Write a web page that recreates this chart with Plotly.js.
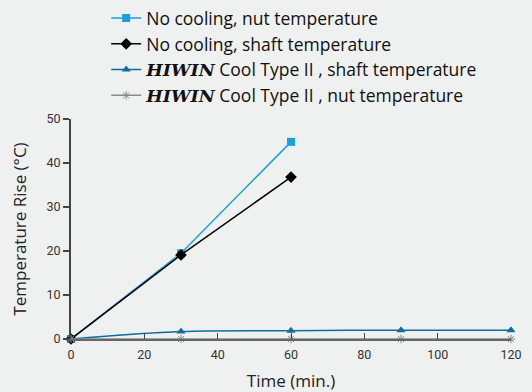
<!DOCTYPE html>
<html><head><meta charset="utf-8">
<script src="https://cdn.plot.ly/plotly-3.0.1.min.js"></script>
<style>html,body{margin:0;padding:0;background:#eff0f0;}#c{width:532px;height:392px;}</style>
</head><body><div id="c"></div>
<script>
const timeNoCool = [0, 30, 60];
const nutNoCool = [0, 19.5, 44.8];
const shaftNoCool = [0, 19.1, 36.8];
const timeCool = [0, 30, 60, 90, 120];
const shaftCool = [0, 1.7, 1.9, 2.0, 2.0];
const nutCool = [0, 0, 0, 0, 0];
const xTicks = [0, 20, 40, 60, 80, 100, 120];
const yTicks = [0, 10, 20, 30, 40, 50];

const hiwin = '<span style="font-family:\'DejaVu Serif\';font-weight:bold;font-style:italic;">HIWIN</span>';
const traces = [
  {x: timeNoCool, y: nutNoCool, name: 'No cooling, nut temperature', mode: 'lines+markers',
   line: {color: '#1a9fe0', width: 1.5}, marker: {symbol: 'square', size: 8, color: '#1a9fe0'}},
  {x: timeNoCool, y: shaftNoCool, name: 'No cooling, shaft temperature', mode: 'lines+markers',
   line: {color: '#000000', width: 1.5}, marker: {symbol: 'diamond', size: 9, color: '#000000'}},
  {x: timeCool, y: shaftCool, name: hiwin + ' Cool Type II , shaft temperature', mode: 'lines+markers',
   line: {color: '#0f6e9e', width: 1.5, shape: 'spline'}, marker: {symbol: 'triangle-up', size: 8, color: '#0f6e9e'}},
  {x: timeCool, y: nutCool, name: hiwin + ' Cool Type II , nut temperature', mode: 'lines+markers',
   line: {color: '#8a8a8a', width: 1.5}, marker: {symbol: 'asterisk-open', size: 7, color: '#8a8a8a', line: {color: '#8a8a8a', width: 1}}}
];
traces.forEach(t => t.cliponaxis = false);

const layout = {
  width: 532, height: 392,
  paper_bgcolor: '#eff0f0', plot_bgcolor: '#eff0f0',
  font: {family: '"Open Sans", sans-serif', color: '#222'},
  margin: {l: 71, r: 21, t: 119, b: 53, autoexpand: false},
  showlegend: true,
  legend: {x: 0.08, y: 1.54, xanchor: 'left', yanchor: 'top',
    bgcolor: 'rgba(0,0,0,0)', font: {size: 17.5, color: '#111'}, tracegroupgap: 0, itemwidth: 30},
  xaxis: {range: [0, 120], tickvals: xTicks, ticks: 'inside', ticklen: 6, tickwidth: 1, tickcolor: '#444',
    showgrid: false, zeroline: false, showline: true, linecolor: '#666', linewidth: 2,
    ticklabelstandoff: 3,
    tickfont: {family: 'Roboto, sans-serif', size: 12.5, color: '#333'},
    title: {text: 'Time (min.)', font: {size: 17, color: '#222'}}},
  yaxis: {range: [0, 50], tickvals: yTicks, ticks: 'outside', ticklen: 6, tickwidth: 1.5, tickcolor: '#444',
    showgrid: false, zeroline: false, showline: true, linecolor: '#444', linewidth: 2,
    tickfont: {family: 'Roboto, sans-serif', size: 12.5, color: '#333'},
    title: {text: 'Temperature Rise (°C)', font: {size: 17, color: '#222'}}}
};
Plotly.newPlot('c', traces, layout, {displayModeBar: false, staticPlot: true});
</script></body></html>
